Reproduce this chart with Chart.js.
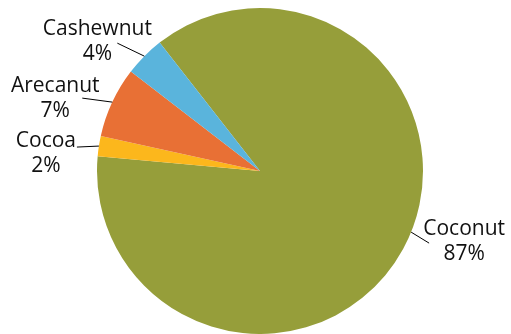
<!DOCTYPE html>
<html>
<head>
<meta charset="utf-8">
<script src="https://cdn.jsdelivr.net/npm/chart.js@4"></script>
<style>
  html, body { margin: 0; padding: 0; background: #ffffff; }
  #wrap { width: 511px; height: 334px; position: relative; }
</style>
</head>
<body>
<div id="wrap"><canvas id="c" width="511" height="334"></canvas></div>
<script>
// Share of plantation crop area
const crops = ['Coconut', 'Cocoa', 'Arecanut', 'Cashewnut'];
const shares = [87, 2, 7, 4];
const sliceColors = ['#969E3A', '#FCB71C', '#E87035', '#5AB4DC'];

// Label placement per slice: where on the rim the leader starts (fraction of the slice),
// the leader's end relative to that rim point, and the text block relative to the leader end.
const labelLayout = [
  { at: 0.479, lead: [18, 11], text: [35, -8] },
  { at: 0.5, lead: [-22, 1], text: [-31, 0] },
  { at: 0.5, lead: [-30, -4], text: [-27, -6] },
  { at: 0.5, lead: [-27, -13], text: [-20, -8] }
];

const calloutPlugin = {
  id: 'callouts',
  afterDatasetsDraw(chart) {
    const ctx = chart.ctx;
    const meta = chart.getDatasetMeta(0);
    ctx.save();
    ctx.font = '21px "Open Sans"';
    ctx.textAlign = 'center';
    ctx.textBaseline = 'alphabetic';
    meta.data.forEach((arc, i) => {
      const p = arc.getProps(['x', 'y', 'startAngle', 'endAngle', 'outerRadius'], true);
      const L = labelLayout[i];
      const a = p.startAngle + (p.endAngle - p.startAngle) * L.at;
      const ax = p.x + Math.cos(a) * p.outerRadius;
      const ay = p.y + Math.sin(a) * p.outerRadius;
      const ex = ax + L.lead[0];
      const ey = ay + L.lead[1];
      ctx.strokeStyle = '#000000';
      ctx.lineWidth = 1;
      ctx.beginPath();
      ctx.moveTo(ax, ay);
      ctx.lineTo(ex, ey);
      ctx.stroke();
      const tx = ex + L.text[0];
      const ty = ey + L.text[1];
      ctx.fillStyle = '#111111';
      ctx.fillText(crops[i], tx, ty);
      ctx.fillText(shares[i] + '%', tx, ty + 25);
    });
    ctx.restore();
  }
};

new Chart(document.getElementById('c'), {
  type: 'pie',
  data: {
    labels: crops,
    datasets: [{
      data: shares,
      backgroundColor: sliceColors,
      borderWidth: 0,
      hoverOffset: 0
    }]
  },
  options: {
    responsive: false,
    animation: false,
    rotation: -38,
    layout: { padding: { top: 8, bottom: 0, left: 9, right: 0 } },
    plugins: {
      legend: { display: false },
      tooltip: { enabled: false }
    },
    events: []
  },
  plugins: [calloutPlugin]
});
</script>
</body>
</html>
